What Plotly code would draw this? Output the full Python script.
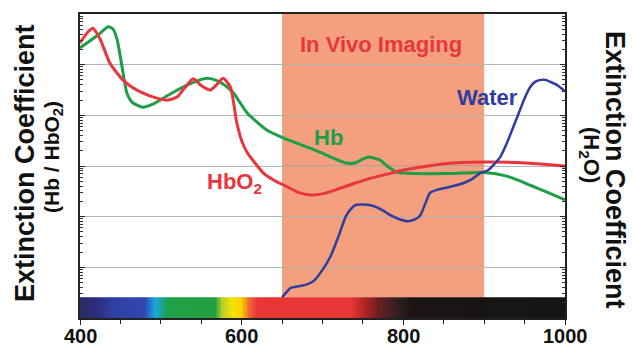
import numpy as np
import plotly.graph_objects as go

# ---- data (y values in decades, log10 of extinction coefficient) ----
hbo2_nm = [400, 410, 416, 425, 437, 453, 465, 478, 495, 508, 520, 530, 540, 549, 561, 570, 577, 586,
           594, 600, 607, 617, 627, 640, 655, 670, 685, 700, 720, 740, 760, 780, 800, 830, 860, 900,
           940, 970, 1000]
hbo2_log = [5.43, 5.65, 5.72, 5.50, 5.03, 4.70, 4.55, 4.44, 4.34, 4.30, 4.36, 4.55, 4.72, 4.60, 4.50,
            4.62, 4.73, 4.56, 3.85, 3.50, 3.26, 3.05, 2.86, 2.72, 2.60, 2.48, 2.43, 2.45, 2.55, 2.66,
            2.76, 2.84, 2.92, 3.00, 3.06, 3.08, 3.07, 3.04, 3.00]

hb_nm = [400, 415, 425, 435, 441, 446, 452, 458, 465, 478, 490, 499, 515, 528, 545, 557, 570, 582,
         590, 598, 607, 618, 631, 652, 670, 693, 710, 729, 740, 750, 757, 765, 771, 780, 791, 800,
         850, 900, 928, 945, 957, 980, 1000]
hb_log = [5.33, 5.50, 5.62, 5.75, 5.70, 5.49, 4.96, 4.44, 4.25, 4.16, 4.22, 4.30, 4.45, 4.56, 4.68,
          4.73, 4.68, 4.56, 4.44, 4.25, 4.04, 3.88, 3.71, 3.55, 3.44, 3.30, 3.18, 3.06, 3.06, 3.14,
          3.18, 3.15, 3.12, 3.00, 2.88, 2.86, 2.85, 2.87, 2.80, 2.70, 2.62, 2.47, 2.33]

water_nm = [650, 655, 660, 672, 680, 689, 700, 710, 720, 729, 735, 741, 752, 763, 775, 784, 795, 806,
            815, 821, 827, 833, 842, 853, 874, 885, 895, 905, 920, 928, 936, 943, 949, 957, 963, 970,
            976, 982, 990, 998, 1000]
water_log = [0.41, 0.50, 0.59, 0.63, 0.66, 0.73, 0.95, 1.22, 1.62, 2.01, 2.15, 2.23, 2.24, 2.21, 2.12,
             2.03, 1.95, 1.91, 1.95, 2.03, 2.25, 2.47, 2.53, 2.57, 2.66, 2.74, 2.86, 2.92, 3.18, 3.45,
             3.77, 4.05, 4.30, 4.56, 4.66, 4.70, 4.70, 4.66, 4.60, 4.50, 4.48]

# visible spectrum bar colour stops
spec_nm = [400, 422, 440, 480, 493, 509, 567, 576, 590, 600, 610, 620, 735, 755, 770, 790, 810, 1000]
spec_col = ["#2a2a62", "#2b2e80", "#3040a0", "#3048b0", "#18a8e0", "#20a048", "#22a040", "#b8d028",
            "#f8e400", "#f8d000", "#f06030", "#e83535", "#e83535", "#a82222", "#682020", "#382020",
            "#1c1414", "#151515"]
bar_top_log = 0.41
region_nm = [650, 900]
xtick_vals = [400, 600, 800, 1000]
xtick_text = ["400", "600", "800", "1000"]

font_fam = "Liberation Sans, Arial, sans-serif"
RED, GREEN, BLUE = "#e8363c", "#1e9e48", "#2f3d9e"

fig = go.Figure()

# spectrum bar
xs = np.arange(400.5, 1000, 1.0)
cs = [[(n - 400) / 600, c] for n, c in zip(spec_nm, spec_col)]
fig.add_trace(go.Heatmap(x=xs, y=[1, 10 ** bar_top_log], z=[xs], colorscale=cs,
                         zmin=400, zmax=1000, showscale=False, hoverinfo="skip"))

fig.add_trace(go.Scatter(x=hb_nm, y=np.power(10.0, hb_log), mode="lines",
                         line=dict(color=GREEN, width=3, shape="spline", smoothing=0.6),
                         showlegend=False))
fig.add_trace(go.Scatter(x=hbo2_nm, y=np.power(10.0, hbo2_log), mode="lines",
                         line=dict(color=RED, width=3, shape="spline", smoothing=0.6),
                         showlegend=False))
fig.add_trace(go.Scatter(x=water_nm, y=np.power(10.0, water_log), mode="lines", yaxis="y2",
                         line=dict(color=BLUE, width=2.5, shape="spline", smoothing=0.6),
                         showlegend=False))

shapes = [dict(type="rect", xref="x", yref="paper", x0=region_nm[0], x1=region_nm[1],
               y0=bar_top_log / 6, y1=1, fillcolor="#f4a07e", line_width=0, layer="below")]
for k in range(1, 6):
    shapes.append(dict(type="line", xref="x", yref="paper", x0=region_nm[0], x1=region_nm[1],
                       y0=k / 6, y1=k / 6, line=dict(color="#ea7050", width=1), layer="between"))


def px2x(px):
    return (px - 80) / 485


def py2y(py):
    return (318 - py) / 304


def nm_at(px):
    return 400 + (px - 80) / 485 * 600


def note(x, y, text, font, xref="paper", angle=0):
    return dict(x=x, y=y, xref=xref, yref="paper", text=text, showarrow=False, font=font,
                textangle=angle, xanchor="center", yanchor="middle")


ann = []
lab = dict(family=font_fam, size=22, weight="bold")
ann.append(note(nm_at(381), py2y(44), "In Vivo Imaging", dict(lab, color=RED), "x"))
ann.append(note(nm_at(487), py2y(98), "Water", dict(lab, color=BLUE), "x"))
ann.append(note(nm_at(328), py2y(137), "Hb", dict(lab, color=GREEN), "x"))
ann.append(note(nm_at(234), py2y(183), "HbO<sub>2</sub>", dict(lab, color=RED), "x"))
ann.append(note(px2x(25), py2y(163), "Extinction Coefficient",
                dict(family=font_fam, size=27, weight="bold", color="#111"), angle=-90))
ann.append(note(px2x(53), py2y(157), "(Hb / HbO<sub>2</sub>)",
                dict(family=font_fam, size=21, weight="bold", color="#111"), angle=-90))
ann.append(note(px2x(615), py2y(170), "Extinction Coefficient",
                dict(family=font_fam, size=27, weight="bold", color="#111"), angle=90))
ann.append(note(px2x(590), py2y(155), "(H<sub>2</sub>O)",
                dict(family=font_fam, size=22, weight="bold", color="#111"), angle=90))
# x tick labels
for v, t in zip(xtick_vals, xtick_text):
    ann.append(note(v, py2y(336), t, dict(family=font_fam, size=20, weight="bold", color="#111"), "x"))

yax = dict(type="log", range=[0, 6], dtick=1, showticklabels=False, ticks="inside", ticklen=5,
           tickcolor="#222", showline=True, linecolor="#222", linewidth=2, zeroline=False,
           automargin=False,
           minor=dict(ticks="inside", ticklen=3, tickcolor="#333", dtick="D1", showgrid=False))

fig.update_layout(
    width=633, height=346, margin=dict(l=80, r=68, t=14, b=28, autoexpand=False),
    paper_bgcolor="white", plot_bgcolor="white",
    xaxis=dict(range=[400, 1000], tickvals=xtick_vals, ticks="outside", ticklen=5, tickcolor="#222",
               showticklabels=False,
               showgrid=False, zeroline=False, showline=True, linecolor="#222", linewidth=2, mirror=True,
               automargin=False,
               minor=dict(dtick=50, ticks="outside", ticklen=4, tickcolor="#222")),
    yaxis=dict(yax, showgrid=True, gridcolor="#b4b4b4", gridwidth=1),
    yaxis2=dict(yax, overlaying="y", side="right", showgrid=False),
    shapes=shapes, annotations=ann, showlegend=False,
)

fig.write_html("out.html", config={"displayModeBar": False},
               post_script="document.body.style.margin='0';")
